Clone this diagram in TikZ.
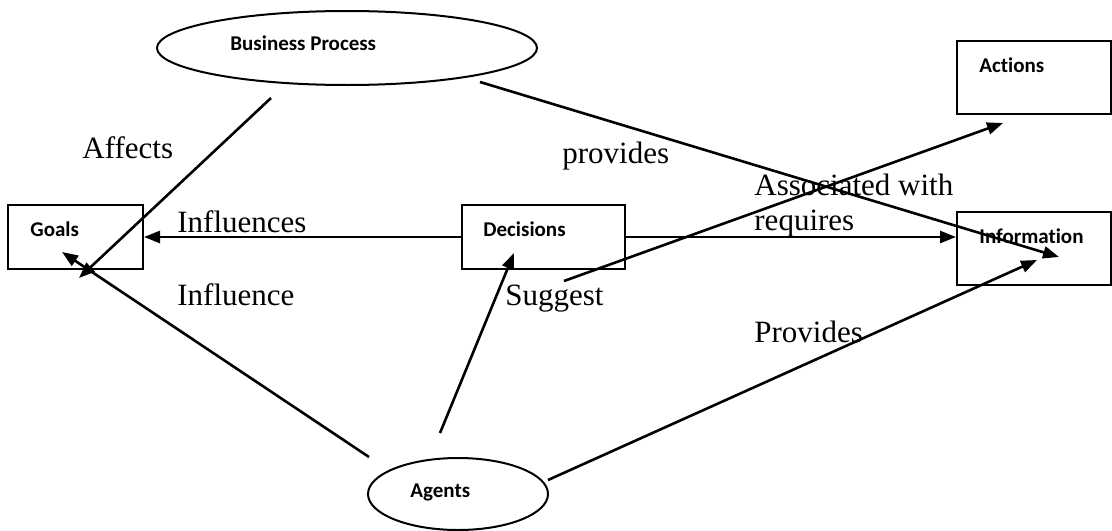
\documentclass[tikz,border=0pt]{standalone}
\usepackage{fontspec}
\setmainfont{Liberation Serif}
\newfontfamily\boxfont{Carlito}[Ligatures=NoCommon]
\usetikzlibrary{arrows.meta,positioning,shapes.geometric}
\tikzset{
	box/.style={draw,line width=1pt,rectangle,inner sep=0pt},
	oval/.style={draw,line width=1pt,ellipse,inner sep=0pt},
	boxtext/.style={anchor=base west,inner sep=0pt,font=\boxfont\bfseries\fontsize{10.5}{12}\selectfont},
	reltext/.style={anchor=base west,inner sep=0pt,font=\fontsize{15.5}{18}\selectfont},
	link/.style={line width=1.3pt,-{Triangle[length=8pt,width=6pt]}}
}
\begin{document}
\begin{tikzpicture}[x=0.5pt,y=-0.5pt]
			\useasboundingbox (0,0) rectangle (1112,530);
			% shapes
			\node[oval,minimum width=190pt,minimum height=37pt] (bp) at (347,48) {};
			\node[oval,minimum width=90pt,minimum height=36pt] (ag) at (458,494) {};
			\node[box,minimum width=67.5pt,minimum height=32pt] (goals) at (75.5,237) {};
			\node[box,minimum width=81.5pt,minimum height=32pt] (dec) at (543.5,237) {};
			\node[box,minimum width=77pt,minimum height=36.5pt] (act) at (1034,77.5) {};
			\node[box,minimum width=77pt,minimum height=36.5pt] (info) at (1034,248.5) {};
			
			\node[boxtext] (bpt) at (230,50) {Business Process};
			\node[boxtext] (agt) at (410,497) {Agents};
			\node[boxtext] (goalst) at (30,236) {Goals};
			\node[boxtext] (dect) at (483,236) {Decisions};
			\node[boxtext] (actt) at (979,72) {Actions};
			\node[boxtext] (infot) at (979,243) {Information};
			
			% free ends
			\coordinate (affS) at (271,98);
			\coordinate (affE) at (79,278);
			\coordinate (provS) at (480,82);
			\coordinate (provE) at (1059,257);
			\coordinate (sugS) at (564,281);
			\coordinate (sugE) at (1003,123);
			\coordinate (agD) at (440,433);
			\coordinate (agDE) at (514,253);
			\coordinate (agG) at (369,457);
			\coordinate (agGE) at (62,252);
			\coordinate (agI) at (548,480);
			\coordinate (agIE) at (1037,260);
			
			\draw[link] (affS) -- (affE);
			\draw[link] (provS) -- (provE);
			\draw[link] (dec.west) -- (goals.east);
			\draw[link] (dec.east) -- (dec.east -| info.west);
			\draw[link] (sugS) -- (sugE);
			\draw[link] (agD) -- (agDE);
			\draw[link] (agG) -- (agGE);
			\draw[link] (agI) -- (agIE);
			
			\node[reltext] (affects) at (82,158) {Affects};
			\node[reltext] (provides) at (562,163) {provides};
			\node[reltext] (influences) at (177,232) {Influences};
			\node[reltext] (assoc) at (754,195) {Associated with};
			\node[reltext] (requires) at (754,230) {requires};
			\node[reltext] (suggest) at (505,305) {Suggest};
			\node[reltext] (influence) at (177,305) {Influence};
			\node[reltext] (provides2) at (754,342) {Provides};
		\end{tikzpicture}
\end{document}
